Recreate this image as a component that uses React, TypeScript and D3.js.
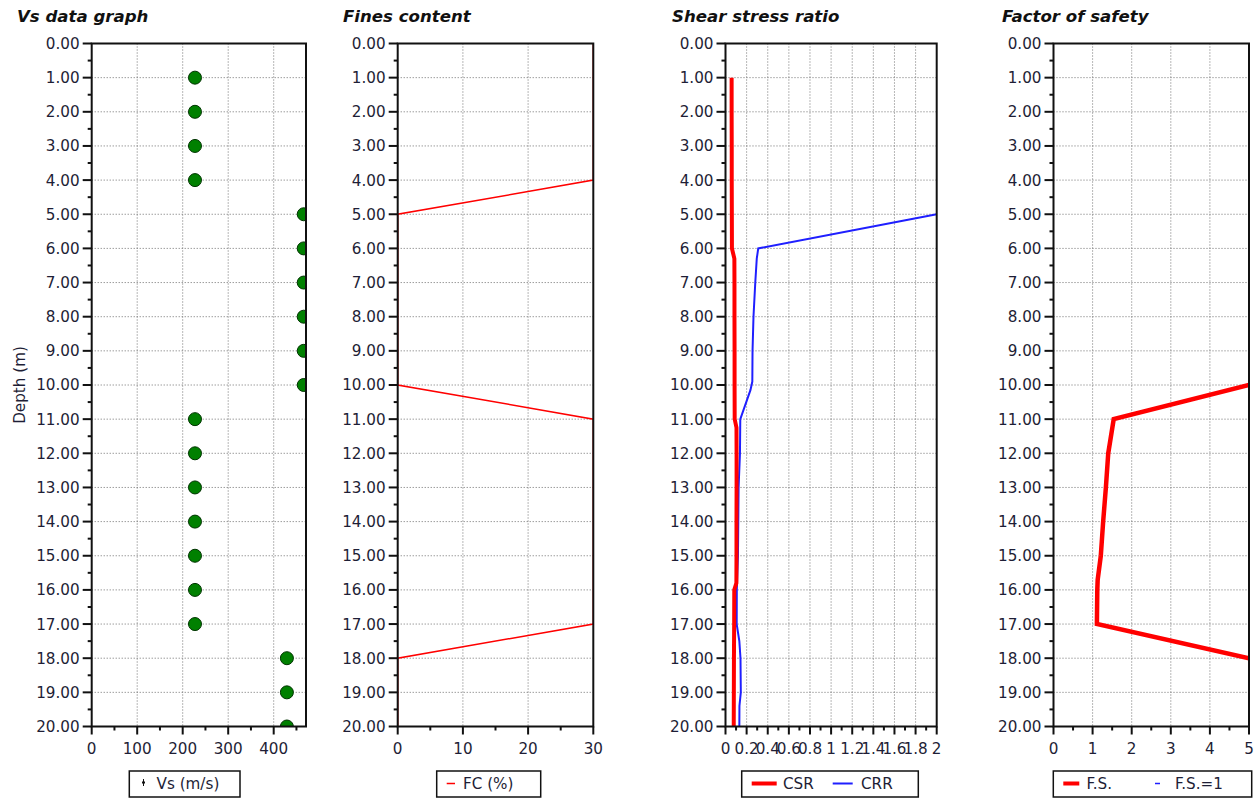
import React from "react";
import * as d3 from "d3";

// Depth axis (m), shared by all four panels
const depthTicks = d3.range(0, 21);
const depthMinor = d3.range(0.5, 20, 1);

// Shear wave velocity profile
const vsDepth = [1, 2, 3, 4, 5, 6, 7, 8, 9, 10, 11, 12, 13, 14, 15, 16, 17, 18, 19, 20];
const vsValue = [227, 227, 227, 227, 466, 466, 466, 466, 466, 466, 227, 227, 227, 227, 227, 227, 227, 429, 429, 429];

// Fines content (%)
const fcDepth = [0, 1, 2, 3, 4, 5, 6, 7, 8, 9, 10, 11, 12, 13, 14, 15, 16, 17, 18, 19, 20];
const fcValue = [30, 30, 30, 30, 30, 0, 0, 0, 0, 0, 0, 30, 30, 30, 30, 30, 30, 30, 0, 0, 0];

// Cyclic stress ratio
const csrDepth = [1, 2, 3, 4, 5, 6, 6.3, 7, 8, 9, 10, 11, 11.25, 12, 13, 14, 15, 15.8, 16, 17, 18, 19, 20];
const csrValue = [0.058, 0.058, 0.059, 0.059, 0.06, 0.061, 0.084, 0.085, 0.085, 0.086, 0.086, 0.087, 0.104, 0.105, 0.105, 0.104, 0.104, 0.103, 0.083, 0.082, 0.08, 0.079, 0.078];

// Cyclic resistance ratio
const crrDepth = [5, 6, 6.3, 7, 8, 9, 9.9, 10.15, 11, 12, 13, 14, 15, 16, 17, 17.5, 18, 19, 19.4, 20];
const crrValue = [2.0, 0.31, 0.296, 0.282, 0.265, 0.256, 0.254, 0.236, 0.14, 0.137, 0.124, 0.121, 0.118, 0.107, 0.106, 0.131, 0.142, 0.145, 0.132, 0.131];

// Factor of safety
const fsDepth = [10, 11, 12, 13, 14, 15, 15.7, 16, 17, 18];
const fsValue = [5, 1.54, 1.4, 1.34, 1.27, 1.21, 1.13, 1.12, 1.11, 5];

const TOP = 43.5;
const BOTTOM = 726.5;
const FONT = "DejaVu Sans, Verdana, sans-serif";
const TEXT = "#1e1e36";
const FS = 15.2;
const GRID = "#6f6f6f";

const yScale = d3.scaleLinear().domain([0, 20]).range([TOP, BOTTOM]);

type PanelProps = {
  id: string;
  title: string;
  titleX: number;
  left: number;
  right: number;
  domain: [number, number];
  ticks: number[];
  minor: number[];
  grid: number[];
  fmt: (v: number) => string;
  render: (x: d3.ScaleLinear<number, number>) => React.ReactNode;
};

function Panel({ id, title, titleX, left, right, domain, ticks, minor, grid, fmt, render }: PanelProps) {
  const x = d3.scaleLinear().domain(domain).range([left, right]);
  return (
    <g>
      <text x={titleX} y={22} fontFamily={FONT} fontSize={16.6} fontWeight="bold" fontStyle="italic" fill="#111">
        {title}
      </text>
      <defs>
        <clipPath id={`clip-${id}`}>
          <rect x={left} y={TOP} width={right - left} height={BOTTOM - TOP} />
        </clipPath>
      </defs>
      {/* dotted grid */}
      {depthTicks.slice(1, -1).map((d) => (
        <line key={`h${d}`} x1={left} x2={right} y1={yScale(d)} y2={yScale(d)} stroke={GRID} strokeWidth={1} strokeDasharray="1,2" />
      ))}
      {grid.map((v) => (
        <line key={`v${v}`} x1={x(v)} x2={x(v)} y1={TOP} y2={BOTTOM} stroke={GRID} strokeWidth={1} strokeDasharray="1,2" />
      ))}
      <g clipPath={`url(#clip-${id})`}>{render(x)}</g>
      {/* frame */}
      <rect x={left} y={TOP} width={right - left} height={BOTTOM - TOP} fill="none" stroke="#111" strokeWidth={2} />
      {/* depth axis */}
      {depthTicks.map((d) => (
        <g key={`yt${d}`}>
          <line x1={left - 9} x2={left} y1={yScale(d)} y2={yScale(d)} stroke="#111" strokeWidth={2} />
          <text x={left - 12} y={yScale(d)} dy="0.36em" textAnchor="end" fontFamily={FONT} fontSize={FS} fill={TEXT}>
            {d.toFixed(2)}
          </text>
        </g>
      ))}
      {depthMinor.map((d) => (
        <line key={`ym${d}`} x1={left - 4} x2={left} y1={yScale(d)} y2={yScale(d)} stroke="#111" strokeWidth={2} />
      ))}
      {/* horizontal axis */}
      {ticks.map((v) => (
        <g key={`xt${v}`}>
          <line x1={x(v)} x2={x(v)} y1={BOTTOM} y2={BOTTOM + 8} stroke="#111" strokeWidth={2} />
          <text x={x(v)} y={753.5} textAnchor="middle" fontFamily={FONT} fontSize={FS} fill={TEXT}>
            {fmt(v)}
          </text>
        </g>
      ))}
      {minor.map((v) => (
        <line key={`xm${v}`} x1={x(v)} x2={x(v)} y1={BOTTOM} y2={BOTTOM + 4} stroke="#111" strokeWidth={2} />
      ))}
    </g>
  );
}

const pathFrom = (depths: number[], values: number[], x: d3.ScaleLinear<number, number>) =>
  d3
    .line<number>()
    .x((_, i) => x(values[i]))
    .y((d) => yScale(d))(depths) ?? "";

function Legend({ x1, x2, children }: { x1: number; x2: number; children: React.ReactNode }) {
  return (
    <g>
      <rect x={x1} y={771} width={x2 - x1} height={26} fill="#fff" stroke="#111" strokeWidth={1.5} />
      {children}
    </g>
  );
}

const legendText = (x: number, label: string) => (
  <text x={x} y={789} fontFamily={FONT} fontSize={FS} fill={TEXT}>
    {label}
  </text>
);

export default function App() {
  return (
    <svg width={1258} height={800} style={{ position: "absolute", left: 0, top: 0, background: "#fff" }}>
      <rect width={1258} height={800} fill="#fff" />
      <text
        transform="translate(25,385) rotate(-90)"
        textAnchor="middle"
        fontFamily={FONT}
        fontSize={FS}
        fill={TEXT}
      >
        Depth (m)
      </text>

      <Panel
        id="vs"
        title="Vs data graph"
        titleX={17}
        left={91.7}
        right={306}
        domain={[0, 471]}
        ticks={[0, 100, 200, 300, 400]}
        minor={[50, 150, 250, 350, 450]}
        grid={[100, 200, 300, 400]}
        fmt={(v) => String(v)}
        render={(x) =>
          vsDepth.map((d, i) => (
            <circle key={d} cx={x(vsValue[i])} cy={yScale(d)} r={6.5} fill="#008000" stroke="#003300" strokeWidth={1} />
          ))
        }
      />

      <Panel
        id="fc"
        title="Fines content"
        titleX={343}
        left={397.7}
        right={593.3}
        domain={[0, 30]}
        ticks={[0, 10, 20, 30]}
        minor={[5, 15, 25]}
        grid={[10, 20]}
        fmt={(v) => String(v)}
        render={(x) => <path d={pathFrom(fcDepth, fcValue, x)} fill="none" stroke="#ff0000" strokeWidth={1.5} />}
      />

      <Panel
        id="ssr"
        title="Shear stress ratio"
        titleX={672}
        left={725.5}
        right={936.7}
        domain={[0, 2]}
        ticks={d3.range(0, 11).map((i) => i * 0.2)}
        minor={d3.range(0, 10).map((i) => i * 0.2 + 0.1)}
        grid={d3.range(1, 10).map((i) => i * 0.2)}
        fmt={(v) => String(+v.toFixed(1))}
        render={(x) => (
          <g>
            <path d={pathFrom(crrDepth, crrValue, x)} fill="none" stroke="#1f1fff" strokeWidth={2} />
            <path d={pathFrom(csrDepth, csrValue, x)} fill="none" stroke="#ff0000" strokeWidth={4} />
          </g>
        )}
      />

      <Panel
        id="fs"
        title="Factor of safety"
        titleX={1002}
        left={1053.5}
        right={1249}
        domain={[0, 5]}
        ticks={[0, 1, 2, 3, 4, 5]}
        minor={[0.5, 1.5, 2.5, 3.5, 4.5]}
        grid={[1, 2, 3, 4]}
        fmt={(v) => String(v)}
        render={(x) => <path d={pathFrom(fsDepth, fsValue, x)} fill="none" stroke="#ff0000" strokeWidth={4.5} />}
      />

      <Legend x1={129.3} x2={240}>
        <line x1={143.5} x2={143.5} y1={779} y2={786} stroke="#111" strokeWidth={1} />
        <rect x={142} y={781.5} width={3} height={2} fill="#111" />
        {legendText(156.5, "Vs (m/s)")}
      </Legend>

      <Legend x1={436.7} x2={540.7}>
        <line x1={446.7} x2={455} y1={783.5} y2={783.5} stroke="#ff0000" strokeWidth={1.5} />
        {legendText(463, "FC (%)")}
      </Legend>

      <Legend x1={741.7} x2={918.3}>
        <line x1={751.7} x2={776.7} y1={783.5} y2={783.5} stroke="#ff0000" strokeWidth={4} />
        {legendText(783, "CSR")}
        <line x1={832.7} x2={852.7} y1={783.5} y2={783.5} stroke="#1f1fff" strokeWidth={2} />
        {legendText(861, "CRR")}
      </Legend>

      <Legend x1={1053.3} x2={1251.7}>
        <line x1={1063.3} x2={1079.3} y1={783.5} y2={783.5} stroke="#ff0000" strokeWidth={4} />
        {legendText(1086.5, "F.S.")}
        <line x1={1155} x2={1160} y1={783.5} y2={783.5} stroke="#1f1fff" strokeWidth={1.5} />
        {legendText(1175, "F.S.=1")}
      </Legend>
    </svg>
  );
}
